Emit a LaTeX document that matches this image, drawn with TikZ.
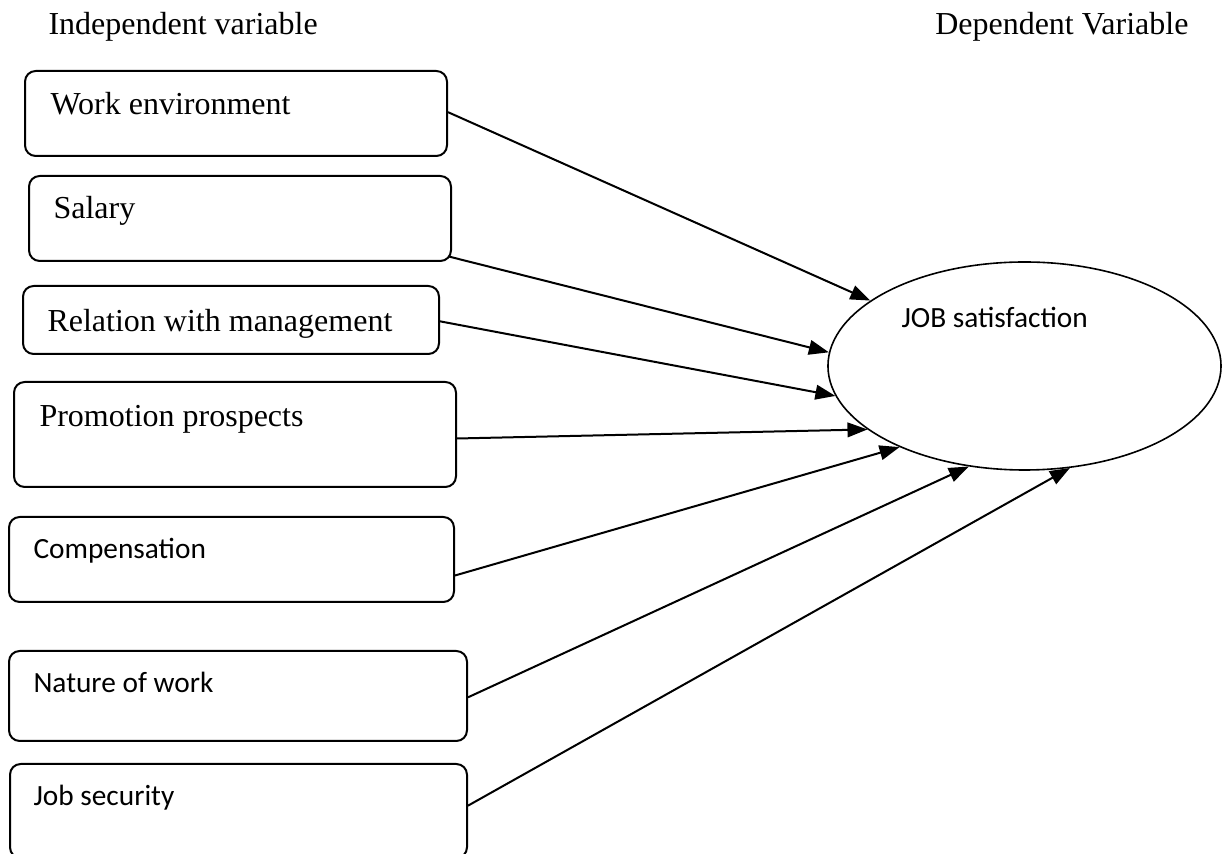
\documentclass[tikz,border=0pt]{standalone}
\usepackage{fontspec}
\setmainfont{Liberation Serif}
\newfontfamily\calfont{Carlito}
\usetikzlibrary{shapes.geometric,fit,arrows.meta}
\begin{document}
\begin{tikzpicture}[x=0.375pt,y=-0.375pt,
  box/.style={draw, line width=0.75pt, rounded corners=4pt, inner sep=0pt},
  serlbl/.style={anchor=base west, inner sep=0pt, font=\fontsize{12}{14}\selectfont},
  sanslbl/.style={anchor=base west, inner sep=0pt, font=\calfont\fontsize{11}{13}\selectfont},
  arr/.style={line width=0.75pt, -{Triangle[length=7.5pt,width=5.5pt]}}]
\useasboundingbox (0,0) rectangle (1222,854);
% headers
\node[serlbl] (hind) at (48,35) {Independent variable};
\node[serlbl, anchor=base east] (hdep) at (1189,35) {Dependent Variable};
% boxes
\node[box, fit={(25,71) (447,156)}] (b1) {};
\node[box, fit={(29,176) (451,261)}] (b2) {};
\node[box, fit={(23,286) (439,354)}] (b3) {};
\node[box, fit={(14,382) (456,487)}] (b4) {};
\node[box, fit={(9,517) (454,602)}] (b5) {};
\node[box, fit={(9,651) (467,741)}] (b6) {};
\node[box, fit={(10,764) (467,858)}] (b7) {};
% box texts
\node[serlbl] (t1) at (50,115) {Work environment};
\node[serlbl] (t2) at (53,219) {Salary};
\node[serlbl] (t3) at (47,332) {Relation with management};
\node[serlbl] (t4) at (39,427) {Promotion prospects};
\node[sanslbl] (t5) at (33,559) {Compensation};
\node[sanslbl] (t6) at (33,693) {Nature of work};
\node[sanslbl] (t7) at (33,806) {Job security};
% ellipse
\node[draw, ellipse, line width=0.6pt, minimum width=147.4pt, minimum height=78pt, inner sep=0pt] (js) at (1024.5,366) {};
\node[sanslbl] (jst) at (901,328) {JOB satisfaction};
% connectors
\draw[arr] ([yshift=0.5pt]b1.east) -- (js.157);
\draw[arr] ([xshift=-1pt,yshift=2pt]b2.south east) -- (js.176.8);
\draw[arr] ([yshift=-0.5pt]b3.east) -- (js.189.7);
\draw[arr] ([yshift=-1.5pt]b4.east) -- (js.202.1);
\draw[arr] ([yshift=-6pt]b5.east) -- (js.213.9);
\draw[arr] ([yshift=-0.5pt]b6.east) -- (js.241.5);
\draw[arr] ([yshift=2pt]b7.east) -- (js.294.6);
\end{tikzpicture}
\end{document}
